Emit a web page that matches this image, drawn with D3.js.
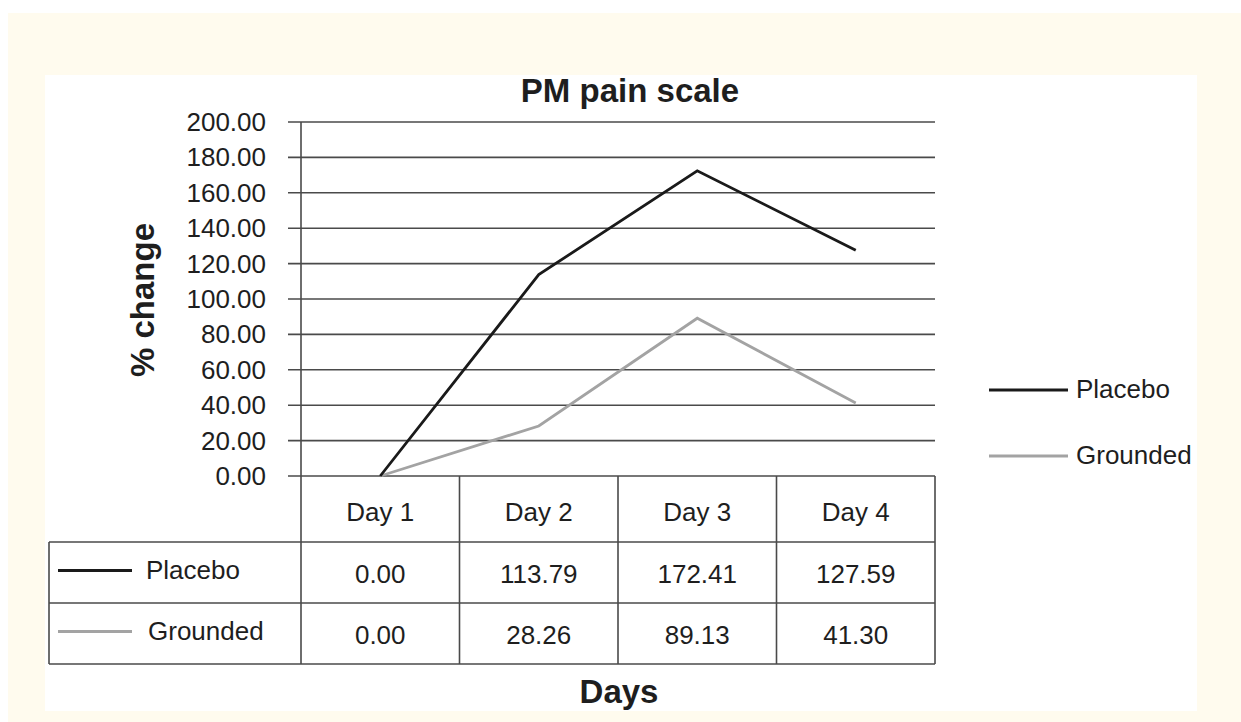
<!DOCTYPE html>
<html>
<head>
<meta charset="utf-8">
<script src="https://cdn.jsdelivr.net/npm/d3@7"></script>
<style>
  body { margin: 0; background: #fff; }
  svg text { font-family: "Liberation Sans", Arial, sans-serif; fill: #1e1e1e; }
</style>
</head>
<body>
<div id="chart"></div>
<script>
var days = ["Day 1", "Day 2", "Day 3", "Day 4"];
var seriesNames = ["Placebo", "Grounded"];
var placebo = [0.00, 113.79, 172.41, 127.59];
var grounded = [0.00, 28.26, 89.13, 41.30];
var yTicks = [0, 20, 40, 60, 80, 100, 120, 140, 160, 180, 200];
var seriesColors = ["#1a1a1a", "#a3a3a3"];

(function() {
    var svg = d3.select("#chart").append("svg")
        .attr("width", 1241)
        .attr("height", 722);

    // cream backdrop and white panel
    svg.append("rect").attr("x", 8).attr("y", 13).attr("width", 1233).attr("height", 709).attr("fill", "#fffbee");
    svg.append("rect").attr("x", 45).attr("y", 75).attr("width", 1152).attr("height", 636).attr("fill", "#ffffff");

    var box = {xmin: 301, xmax: 935, ymin: 122, ymax: 476};
    var series = [placebo, grounded];
    var gridColor = "#4a4a4a";

    var x = d3.scaleBand().domain(days).range([box.xmin, box.xmax]);
    var y = d3.scaleLinear().domain([0, 200]).range([box.ymax, box.ymin]);

    // gridlines
    svg.selectAll(".gridline")
        .data(yTicks)
        .enter().append("line")
            .attr("class", "gridline")
            .attr("stroke", gridColor)
            .attr("stroke-width", 1.6)
            .attr("x1", box.xmin - 13)
            .attr("x2", box.xmax)
            .attr("y1", function(d) { return y(d); })
            .attr("y2", function(d) { return y(d); });

    // y tick labels
    svg.selectAll(".ylab")
        .data(yTicks)
        .enter().append("text")
            .attr("class", "ylab")
            .attr("text-anchor", "end")
            .attr("x", box.xmin - 35)
            .attr("y", function(d) { return y(d) + 9; })
            .style("font-size", "26px")
            .text(function(d) { return d.toFixed(2); });

    // y axis line
    svg.append("line")
        .attr("x1", box.xmin).attr("x2", box.xmin)
        .attr("y1", box.ymin).attr("y2", box.ymax)
        .attr("stroke", gridColor).attr("stroke-width", 1.6);

    // lines
    var line = d3.line()
        .x(function(d, i) { return x(days[i]) + x.bandwidth() / 2; })
        .y(function(d) { return y(d); });

    // grounded first so placebo sits on top
    [1, 0].forEach(function(s) {
        svg.append("path")
            .datum(series[s])
            .attr("fill", "none")
            .attr("stroke", seriesColors[s])
            .attr("stroke-width", 2.8)
            .attr("d", line);
    });

    // data table
    var rowY = [box.ymax, 542, 603, 664];
    var tableLeft = 49;
    var tg = svg.append("g").attr("stroke", gridColor).attr("stroke-width", 1.6);
    [1, 2, 3].forEach(function(r) {
        tg.append("line").attr("x1", tableLeft).attr("x2", box.xmax).attr("y1", rowY[r]).attr("y2", rowY[r]);
    });
    tg.append("line").attr("x1", tableLeft).attr("x2", tableLeft).attr("y1", rowY[1]).attr("y2", rowY[3]);
    tg.selectAll(".vline")
        .data(days.concat(["end"]))
        .enter().append("line")
            .attr("x1", function(d, i) { return box.xmin + i * x.step(); })
            .attr("x2", function(d, i) { return box.xmin + i * x.step(); })
            .attr("y1", rowY[0])
            .attr("y2", rowY[3]);

    svg.selectAll(".dayLabel")
        .data(days)
        .enter().append("text")
            .attr("text-anchor", "middle")
            .attr("x", function(d) { return x(d) + x.bandwidth() / 2; })
            .attr("y", 521)
            .style("font-size", "26px")
            .text(function(d) { return d; });

    series.forEach(function(vals, s) {
        var mid = (rowY[s + 1] + rowY[s + 2]) / 2;
        svg.selectAll(".cell" + s)
            .data(vals)
            .enter().append("text")
                .attr("text-anchor", "middle")
                .attr("x", function(d, i) { return x(days[i]) + x.bandwidth() / 2; })
                .attr("y", mid + 10)
                .style("font-size", "26px")
                .text(function(d) { return d.toFixed(2); });
        svg.append("line")
            .attr("x1", 58).attr("x2", 132)
            .attr("y1", mid - 2).attr("y2", mid - 2)
            .attr("stroke", seriesColors[s]).attr("stroke-width", 2.8);
        svg.append("text")
            .attr("x", 146 + s * 2)
            .attr("y", mid + 6)
            .style("font-size", "26px")
            .text(seriesNames[s]);
    });

    // legend
    var legY = [390, 456];
    seriesNames.forEach(function(name, s) {
        svg.append("line")
            .attr("x1", 989).attr("x2", 1068)
            .attr("y1", legY[s]).attr("y2", legY[s])
            .attr("stroke", seriesColors[s]).attr("stroke-width", 2.8);
        svg.append("text")
            .attr("x", 1076)
            .attr("y", legY[s] + 8)
            .style("font-size", "26px")
            .text(name);
    });

    // titles
    svg.append("text")
        .attr("x", 630).attr("y", 102)
        .attr("text-anchor", "middle")
        .style("font-size", "33px").style("font-weight", "bold")
        .text("PM pain scale");
    svg.append("text")
        .attr("transform", "translate(154,300) rotate(-90)")
        .attr("text-anchor", "middle")
        .style("font-size", "33px").style("font-weight", "bold")
        .text("% change");
    svg.append("text")
        .attr("x", 619).attr("y", 703)
        .attr("text-anchor", "middle")
        .style("font-size", "33px").style("font-weight", "bold")
        .text("Days");
})();
</script>
</body>
</html>
